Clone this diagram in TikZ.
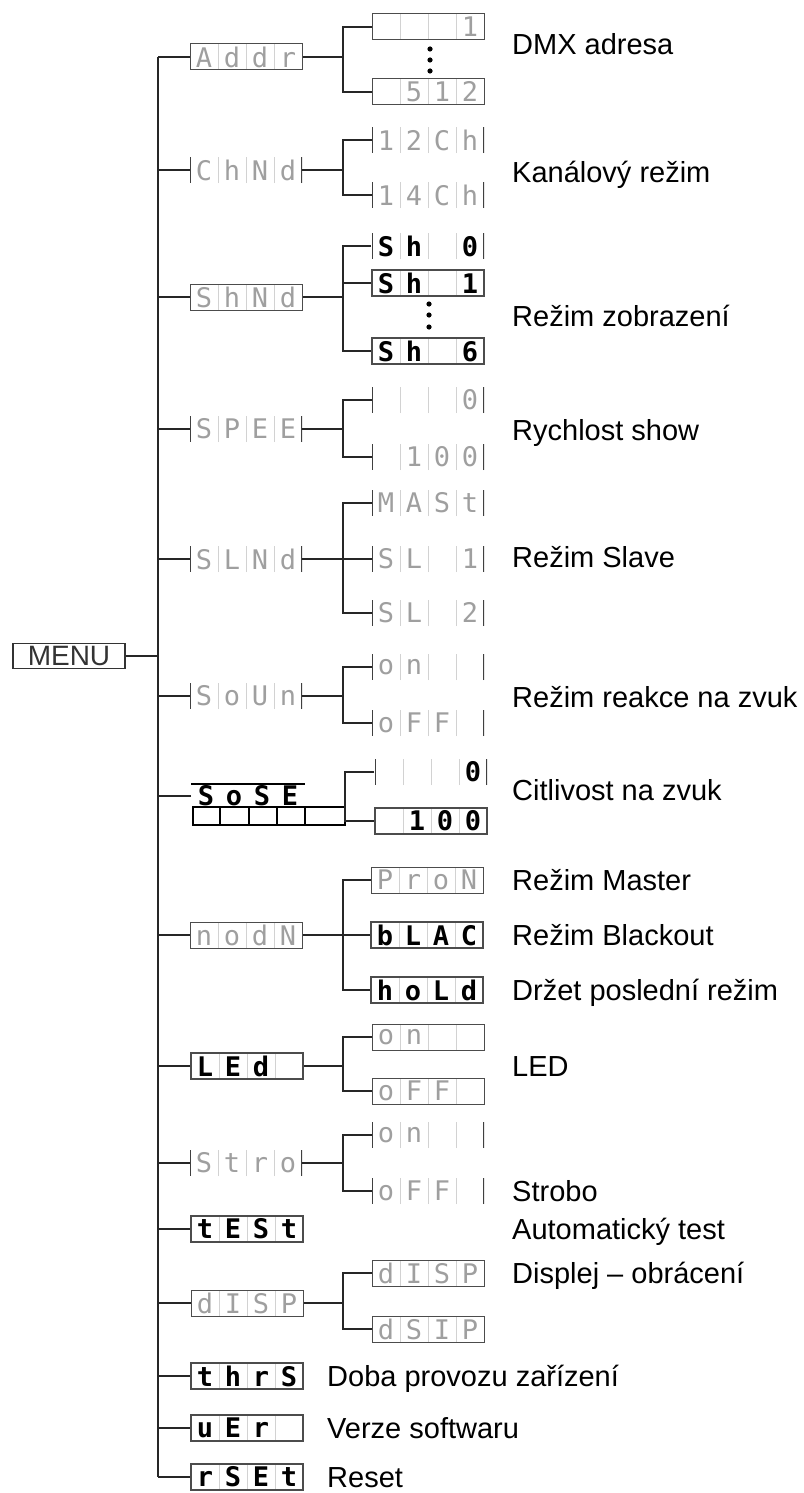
\documentclass[tikz,border=0pt]{standalone}
\usepackage{fontspec}
\setmainfont{Liberation Sans}
\newfontfamily\lcdfont{DejaVu Sans Mono}

% jedna pozice displeje = 28pt
\newcommand\cells[4]{\makebox[28pt]{#1}\makebox[28pt]{#2}\makebox[28pt]{#3}\makebox[28pt]{#4}}
\newcommand\lcdgrid{\foreach \k in {1,2,3}{\draw[gray!35, line width=0.8pt] ([xshift=\k*28pt]path picture bounding box.south west) -- ([xshift=\k*28pt]path picture bounding box.north west);}}
\newcommand\lcdsides{\draw[black!75, line width=2.6pt] (path picture bounding box.south west) -- (path picture bounding box.north west) (path picture bounding box.south east) -- (path picture bounding box.north east);}

\begin{document}
\begin{tikzpicture}[x=1pt, y=-1pt]
    \tikzstyle{lcd}=[minimum width=112pt, minimum height=26pt, inner sep=0pt, text=gray!75, font=\lcdfont\fontsize{27}{27}\selectfont]
    \tikzstyle{lcdbox}=[lcd, draw=black!70, line width=1pt, path picture={\lcdgrid}]
    \tikzstyle{lcdbar}=[lcd, path picture={\lcdgrid\lcdsides}]
    \tikzstyle{hot}=[text=black, font=\lcdfont\bfseries\fontsize{27}{27}\selectfont, line width=1.6pt]
    \tikzstyle{link}=[black!85, line width=1.3pt]
    \tikzstyle{note}=[anchor=base west, inner sep=0pt, font=\fontsize{29}{34}\selectfont]

    \useasboundingbox (0,0) rectangle (803,1493);
    \coordinate (trunk) at (158,0);
    \coordinate (br) at (343,0);
    \coordinate (brz) at (345,0);

    % Menu
    \node[draw=black!80, line width=1.2pt, minimum width=112pt, minimum height=25pt, inner sep=0pt, text=black!80, font=\fontsize{28}{28}\selectfont] (menu) at (69,656) {MENU};

    % Hlavni polozky
    \node[lcdbox] (addr) at (246,57) {\cells{A}{d}{d}{r}};
    \node[lcdbar] (chnd) at (246,170) {\cells{C}{h}{N}{d}};
    \node[lcdbox] (shnd) at (246,297) {\cells{S}{h}{N}{d}};
    \node[lcdbar] (spee) at (246,429) {\cells{S}{P}{E}{E}};
    \node[lcdbar] (slnd) at (246,559) {\cells{S}{L}{N}{d}};
    \node[lcdbar] (soun) at (246,696) {\cells{S}{o}{U}{n}};
    \node[lcd, hot, minimum height=23pt] (sose) at (248,796) {\cells{S}{o}{S}{E}};
    \node[lcdbox] (nodn) at (246,935) {\cells{n}{o}{d}{N}};
    \node[lcdbox, hot] (led) at (247,1066) {\cells{L}{E}{d}{}};
    \node[lcdbar] (stro) at (246,1163) {\cells{S}{t}{r}{o}};
    \node[lcdbox, hot] (test) at (247,1229) {\cells{t}{E}{S}{t}};
    \node[lcdbox] (disp) at (247,1303) {\cells{d}{I}{S}{P}};
    \node[lcdbox, hot] (thrs) at (247,1376) {\cells{t}{h}{r}{S}};
    \node[lcdbox, hot] (uer) at (247,1428) {\cells{u}{E}{r}{}};
    \node[lcdbox, hot] (rset) at (247,1477) {\cells{r}{S}{E}{t}};

    % SoSE - horni linka a radek bunek
    \draw[line width=2.4pt] (sose.north west) -- (sose.north east);
    \foreach \a/\b in {193/220, 220/249, 249/277, 277/305, 305/345}
        \draw[line width=1.6pt] (\a,807) rectangle (\b,825);

    % Podpolozky
    \node[lcdbox] (a1) at (428,27) {\cells{}{}{}{1}};
    \node[lcdbox] (a2) at (428,92) {\cells{}{5}{1}{2}};
    \node[lcdbar] (c1) at (428,140) {\cells{1}{2}{C}{h}};
    \node[lcdbar] (c2) at (428,195) {\cells{1}{4}{C}{h}};
    \node[lcdbar, hot] (s0) at (428,246) {\cells{S}{h}{}{0}};
    \node[lcdbox, hot] (s1) at (428,283) {\cells{S}{h}{}{1}};
    \node[lcdbox, hot] (s6) at (428,351) {\cells{S}{h}{}{6}};
    \node[lcdbar] (p0) at (428,400) {\cells{}{}{}{0}};
    \node[lcdbar] (p100) at (428,457) {\cells{}{1}{0}{0}};
    \node[lcdbar] (m1) at (428,503) {\cells{M}{A}{S}{t}};
    \node[lcdbar] (m2) at (428,559) {\cells{S}{L}{}{1}};
    \node[lcdbar] (m3) at (428,613) {\cells{S}{L}{}{2}};
    \node[lcdbar] (o1) at (428,667) {\cells{o}{n}{}{}};
    \node[lcdbar] (o2) at (428,723) {\cells{o}{F}{F}{}};
    \node[lcdbar, hot] (z0) at (431,772) {\cells{}{}{}{0}};
    \node[lcdbox, hot] (z100) at (431,821) {\cells{}{1}{0}{0}};
    \node[lcdbox] (n1) at (427,880) {\cells{P}{r}{o}{N}};
    \node[lcdbox, hot] (n2) at (427,935) {\cells{b}{L}{A}{C}};
    \node[lcdbox, hot] (n3) at (427,990) {\cells{h}{o}{L}{d}};
    \node[lcdbox] (l1) at (428,1037) {\cells{o}{n}{}{}};
    \node[lcdbox] (l2) at (428,1091) {\cells{o}{F}{F}{}};
    \node[lcdbar] (t1) at (428,1135) {\cells{o}{n}{}{}};
    \node[lcdbar] (t2) at (428,1191) {\cells{o}{F}{F}{}};
    \node[lcdbox] (d1) at (428,1273) {\cells{d}{I}{S}{P}};
    \node[lcdbox] (d2) at (428,1329) {\cells{d}{S}{I}{P}};

    % tecky
    \foreach \y in {49,60,71} \fill (430,\y) circle (2.6);
    \foreach \y in {304,315,327} \fill (429,\y) circle (2.6);

    % Spoje
    \draw[link] (menu.east) -- (menu.east -| trunk);
    \draw[link] (addr.west -| trunk) -- (rset.west -| trunk);
    \foreach \n in {addr,chnd,shnd,spee,slnd,soun,sose,nodn,led,stro,test,disp,thrs,uer,rset}
        \draw[link] (\n.west) -- (\n.west -| trunk);
    \foreach \p/\a/\b in {addr/a1/a2, chnd/c1/c2, shnd/s0/s6, spee/p0/p100, slnd/m1/m3, soun/o1/o2, nodn/n1/n3, led/l1/l2, stro/t1/t2, disp/d1/d2} {
        \draw[link] (\p.east) -- (\p.east -| br);
        \draw[link] (\a.west) -| (br |- \b) -- (\b.west);
    }
    \foreach \c in {s1,m2,n2}
        \draw[link] (\c.west) -- (\c.west -| br);
    \draw[link, line width=2.6pt] (z0.west) -| (brz |- z100) -- (z100.west);

    % Popisky
    \node[note] (tadr) at (512,55) {DMX adresa};
    \node[note] (tkan) at (512,182) {Kanálový režim};
    \node[note] (tzob) at (512,326) {Režim zobrazení};
    \node[note] (trych) at (512,440) {Rychlost show};
    \node[note] (tsla) at (512,567) {Režim Slave};
    \node[note] (tzvuk) at (512,707) {Režim reakce na zvuk};
    \node[note] (tcit) at (512,800) {Citlivost na zvuk};
    \node[note] (tmas) at (512,890) {Režim Master};
    \node[note] (tbla) at (512,945) {Režim Blackout};
    \node[note] (thol) at (512,1000) {Držet poslední režim};
    \node[note] (tled) at (512,1076) {LED};
    \node[note] (tstr) at (512,1201) {Strobo};
    \node[note] (ttest) at (512,1239) {Automatický test};
    \node[note] (tdis) at (512,1283) {Displej – obrácení};
    \node[note] (tdoba) at (327,1386) {Doba provozu zařízení};
    \node[note] (tver) at (327,1438) {Verze softwaru};
    \node[note] (tres) at (327,1487) {Reset};
\end{tikzpicture}
\end{document}
